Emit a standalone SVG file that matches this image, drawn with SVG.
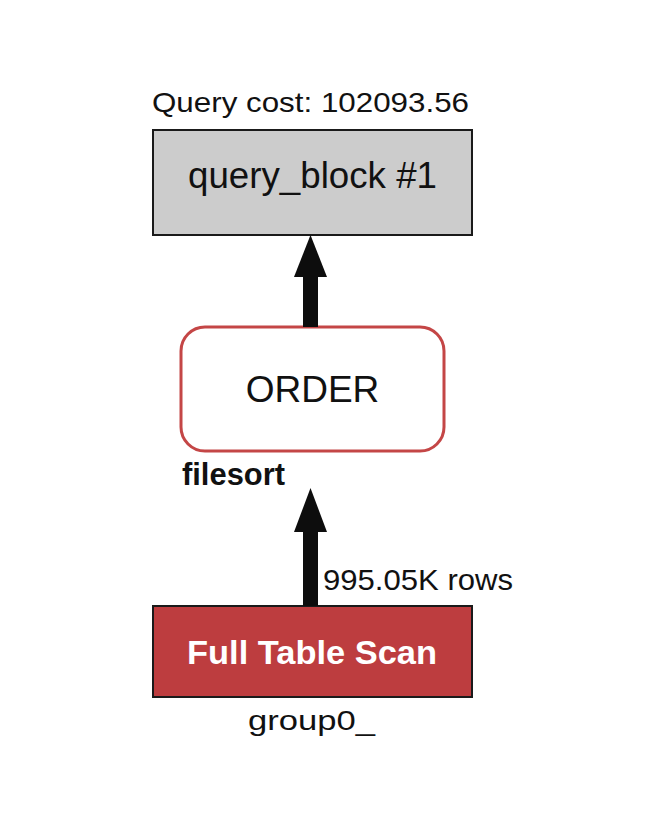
<svg xmlns="http://www.w3.org/2000/svg" width="650" height="826" viewBox="0 0 650 826">
<style>
text{font-family:"Liberation Sans",Arial,sans-serif;fill:#111}
.b{font-weight:bold}
.arrow{fill:#0d0d0d}
</style>
<rect width="650" height="826" fill="#ffffff"/>
<g id="query_block">
<text x="152" y="112" font-size="28" textLength="317" lengthAdjust="spacingAndGlyphs">Query cost: 102093.56</text>
<rect x="153" y="130" width="319" height="105" fill="#cccccc" stroke="#1a1a1a" stroke-width="2"/>
<text x="312.5" y="188" font-size="36" text-anchor="middle" textLength="249" lengthAdjust="spacingAndGlyphs">query_block #1</text>
</g>
<g id="order">
<rect x="181" y="327" width="263" height="124" rx="24" ry="24" fill="#ffffff" stroke="#c44646" stroke-width="3"/>
<text x="312.5" y="402" font-size="37" text-anchor="middle">ORDER</text>
<text x="182" y="485" font-size="31" class="b" textLength="103" lengthAdjust="spacingAndGlyphs">filesort</text>
</g>
<g id="full_table_scan">
<rect x="153" y="606" width="319" height="91" fill="#bd3d3f" stroke="#1a1a1a" stroke-width="2"/>
<text x="312" y="664" font-size="34" class="b" text-anchor="middle" style="fill:#ffffff" textLength="250" lengthAdjust="spacingAndGlyphs">Full Table Scan</text>
<text x="311.5" y="730" font-size="28" text-anchor="middle" textLength="127" lengthAdjust="spacingAndGlyphs">group0_</text>
</g>
<g id="connectors">
<rect class="arrow" x="303" y="275" width="15" height="52"/>
<polygon class="arrow" points="310.5,235 327,277 294,277"/>
<rect class="arrow" x="303" y="530" width="15" height="76"/>
<polygon class="arrow" points="310.5,488 327,532 294,532"/>
<text x="323" y="590" font-size="30" textLength="190" lengthAdjust="spacingAndGlyphs">995.05K rows</text>
</g>
</svg>
